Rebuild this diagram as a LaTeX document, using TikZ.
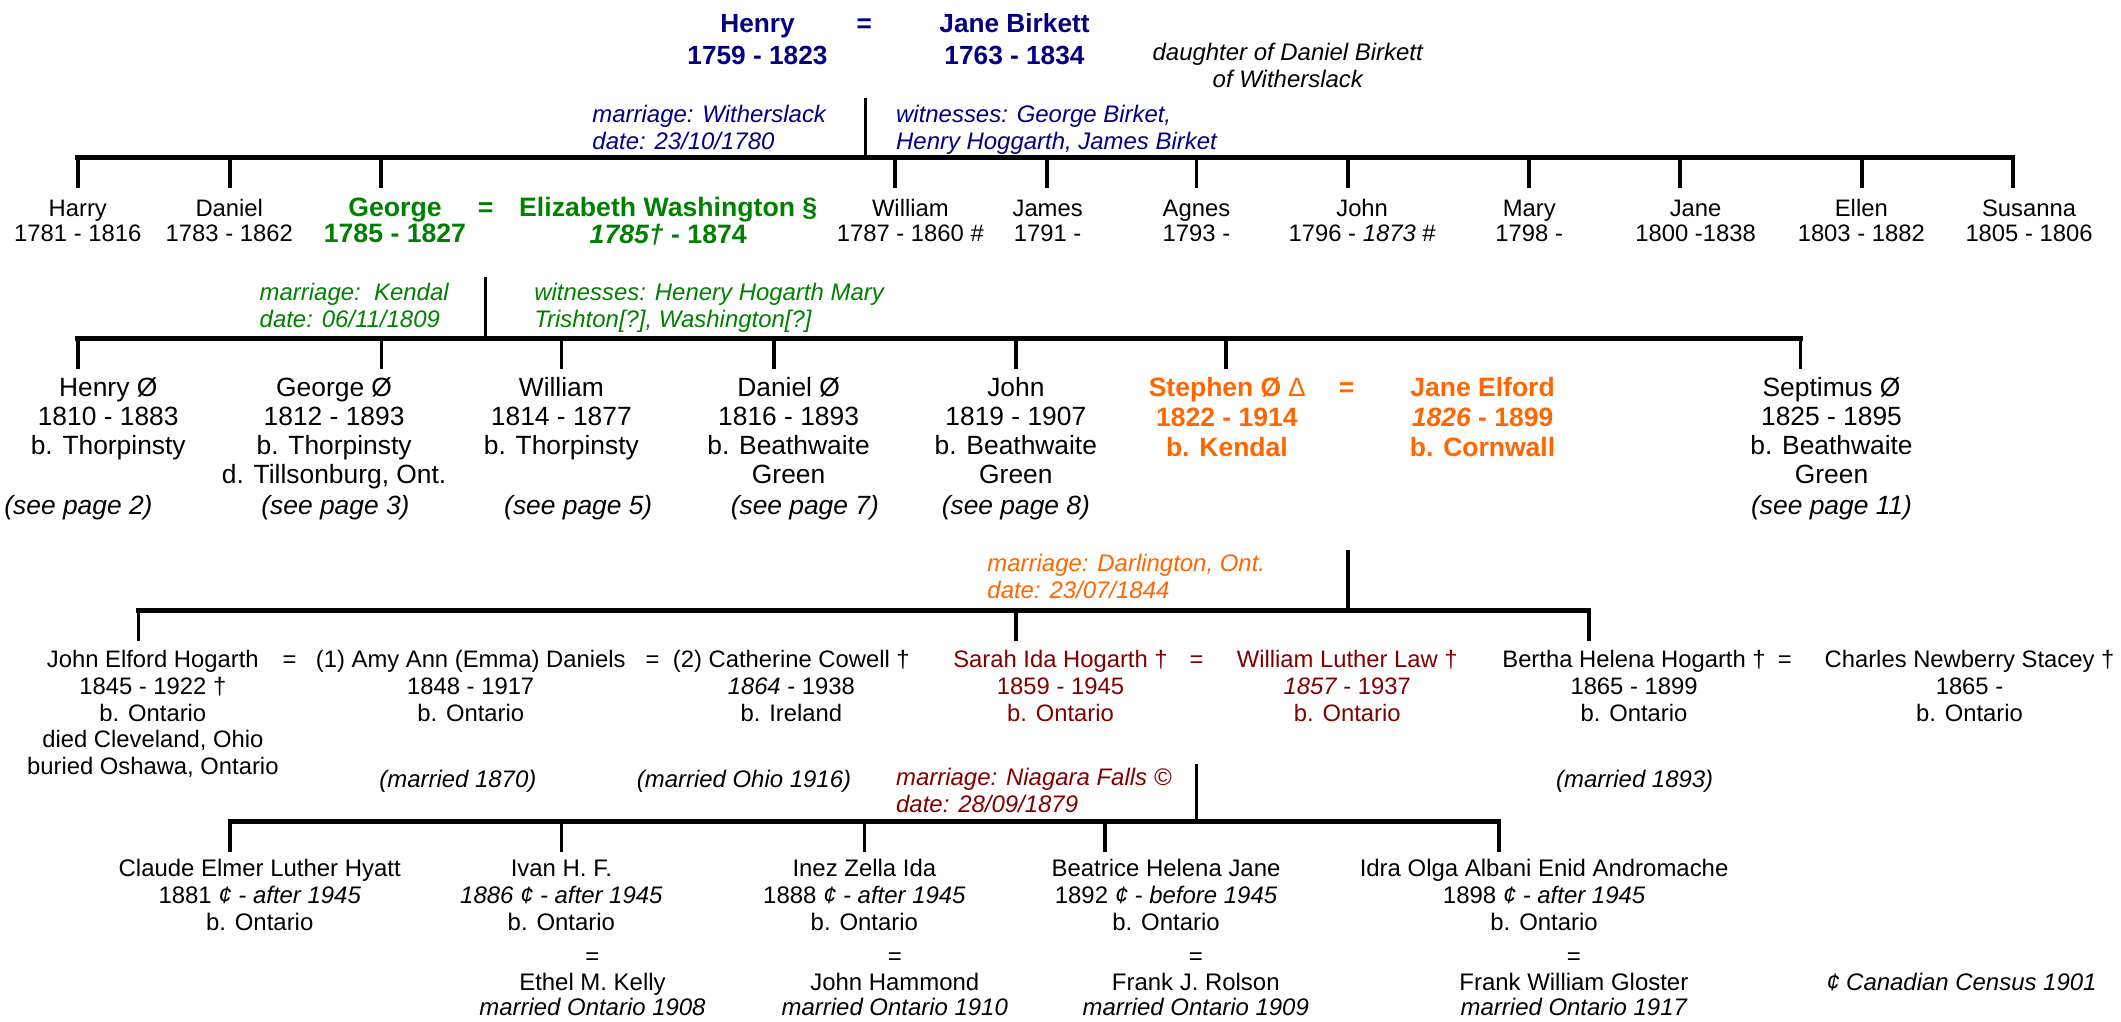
\documentclass[tikz,border=0pt]{standalone}
\usepackage{fontspec}
\setmainfont{Liberation Sans}
\definecolor{navy}{RGB}{0,0,128}
\definecolor{fgreen}{RGB}{0,128,0}
\definecolor{forange}{RGB}{255,102,0}
\definecolor{fred}{RGB}{128,0,0}
\newcommand\ls[1]{\begin{tabular}[t]{@{}c@{}}#1\end{tabular}}
\newcommand\lsl[1]{\begin{tabular}[t]{@{}l@{}}#1\end{tabular}}
\tikzset{
 pn/.style={inner sep=0pt, outer sep=0pt, anchor=base},
 topb/.style={pn, font=\fontsize{9.7}{12}\selectfont\bfseries, text=navy},
 lab/.style={inner sep=0pt, outer sep=0pt, anchor=base west, font=\fontsize{8.85}{10}\selectfont\itshape},
 note/.style={pn, font=\fontsize{8.85}{10}\selectfont\itshape},
 r1/.style={pn, font=\fontsize{8.8}{9.4}\selectfont},
 r1b/.style={pn, font=\fontsize{9.85}{9.5}\selectfont\bfseries, text=fgreen},
 r2/.style={pn, font=\fontsize{9.75}{10.75}\selectfont},
 r2i/.style={pn, font=\fontsize{9.75}{10.75}\selectfont\itshape},
 r2b/.style={pn, font=\fontsize{9.8}{11}\selectfont\bfseries, text=forange},
 r3/.style={pn, font=\fontsize{8.8}{9.9}\selectfont},
 r4/.style={pn, font=\fontsize{8.85}{10}\selectfont},
 sp/.style={pn, font=\fontsize{8.85}{9.5}\selectfont},
 bar/.style={line width=1.8pt, line cap=rect},
 drop/.style={line width=1.3pt},
}
\begin{document}
\begin{tikzpicture}[x=0.5pt, y=-0.5pt]
\useasboundingbox (0,0) rectangle (1568,755.5);

% ---------- generation 0 ----------
\node[topb] (henry) at (560,24) {\ls{Henry\\1759 - 1823}};
\node[topb] (eq0) at (639,24) {=};
\node[topb] (janeb) at (750,24) {\ls{Jane Birkett\\1763 - 1834}};
\node[note] (dau) at (952,44.5) {\ls{daughter of Daniel Birkett\\of Witherslack}};
\node[lab, text=navy] (m1) at (438,90.5) {\lsl{marriage: Witherslack\\date: 23/10/1780}};
\node[lab, text=navy] (w1) at (662.5,90.5) {\lsl{witnesses: George Birket,\\Henry Hoggarth, James Birket}};
\coordinate (s1) at (640,72.5);
\coordinate (bar1L) at (57.5,116.25);
\coordinate (bar1R) at (1488,116.25);
\draw[bar] (bar1L) -- (bar1R);
\draw[drop] (s1) -- (s1 |- bar1L);
\foreach \n/\x in {harry/57.5, daniel1/170, george/281.5, william1/661.5, james/774, agnes/884.5, john1/996.5, mary/1130.5, jane1/1242, ellen/1376.5, susanna/1488}{
  \coordinate (\n-in) at (\x,139);
  \draw[drop] (\n-in |- bar1L) -- (\n-in);
}

% ---------- generation 1 ----------
\node[r1] (harry) at (57.5,160) {\ls{Harry\\1781 - 1816}};
\node[r1] (daniel1) at (169.5,160) {\ls{Daniel\\1783 - 1862}};
\node[r1b] (george) at (292,160) {\ls{George\\1785 - 1827}};
\node[r1b] (eq1) at (359,160) {=};
\node[r1b] (eliz) at (494,160) {\ls{Elizabeth Washington §\\{\itshape 1785†} - 1874}};
\node[r1] (william1) at (673,160) {\ls{William\\1787 - 1860 \#}};
\node[r1] (james) at (774.5,160) {\ls{James\\1791 -}};
\node[r1] (agnes) at (884.5,160) {\ls{Agnes\\1793 -}};
\node[r1] (john1) at (1007,160) {\ls{John\\1796 - {\itshape 1873} \#}};
\node[r1] (mary) at (1130.5,160) {\ls{Mary\\1798 -}};
\node[r1] (jane1) at (1253.5,160) {\ls{Jane\\1800 -1838}};
\node[r1] (ellen) at (1376,160) {\ls{Ellen\\1803 - 1882}};
\node[r1] (susanna) at (1500,160) {\ls{Susanna\\1805 - 1806}};

\node[lab, text=fgreen] (m2) at (192,222) {\lsl{marriage:\ \ Kendal\\date: 06/11/1809}};
\node[lab, text=fgreen] (w2) at (395,222) {\lsl{witnesses: Henery Hogarth Mary\\Trishton[?], Washington[?]}};
\coordinate (s2) at (359,204.5);
\coordinate (bar2L) at (57.5,250.25);
\coordinate (bar2R) at (1331,250.25);
\draw[bar] (bar2L) -- (bar2R);
\draw[drop] (s2) -- (s2 |- bar2L);
\foreach \n/\x in {henry2/57.5, george2/282, william2/415, daniel2/572, john2/751, stephen/906.5, septimus/1331}{
  \coordinate (\n-in) at (\x,272.5);
  \draw[drop] (\n-in |- bar2L) -- (\n-in);
}

% ---------- generation 2 ----------
\node[r2] (henry2) at (80,293.25) {\ls{Henry Ø\\1810 - 1883\\b. Thorpinsty}};
\node[r2] (george2) at (247,293.25) {\ls{George Ø\\1812 - 1893\\b. Thorpinsty\\d. Tillsonburg, Ont.}};
\node[r2] (william2) at (415,293.25) {\ls{William\\1814 - 1877\\b. Thorpinsty}};
\node[r2] (daniel2) at (583,293.25) {\ls{Daniel Ø\\1816 - 1893\\b. Beathwaite\\Green}};
\node[r2] (john2) at (751,293.25) {\ls{John\\1819 - 1907\\b. Beathwaite\\Green}};
\node[r2b] (stephen) at (907,293.25) {\ls{Stephen Ø {\mdseries ∆}\\1822 - 1914\\b. Kendal}};
\node[r2b] (eq2) at (995.5,293.25) {=};
\node[r2b] (janee) at (1096,293.25) {\ls{Jane Elford\\{\itshape 1826} - 1899\\b. Cornwall}};
\node[r2] (septimus) at (1354,293.25) {\ls{Septimus Ø\\1825 - 1895\\b. Beathwaite\\Green}};
\node[r2i] (pg2) at (58,380) {(see page 2)};
\node[r2i] (pg3) at (248,380) {(see page 3)};
\node[r2i] (pg5) at (427.5,380) {(see page 5)};
\node[r2i] (pg7) at (595,380) {(see page 7)};
\node[r2i] (pg8) at (751,380) {(see page 8)};
\node[r2i] (pg11) at (1354,380) {(see page 11)};

\node[lab, text=forange] (m3) at (730,422.75) {\lsl{marriage: Darlington, Ont.\\date: 23/07/1844}};
\coordinate (s3) at (996.5,406.5);
\coordinate (bar3L) at (102.5,451);
\coordinate (bar3R) at (1174.5,451);
\draw[bar] (bar3L) -- (bar3R);
\draw[drop] (s3) -- (s3 |- bar3L);
\foreach \n/\x in {jeh/102.5, sarah/751, bertha/1174.5}{
  \coordinate (\n-in) at (\x,473.5);
  \draw[drop] (\n-in |- bar3L) -- (\n-in);
}

% ---------- generation 3 ----------
\node[r3] (jeh) at (113,493.5) {\ls{John Elford Hogarth\\1845 - 1922 †\\b. Ontario\\died Cleveland, Ohio\\buried Oshawa, Ontario}};
\node[r3] (eq3a) at (214,493.5) {=};
\node[r3] (amy) at (348,493.5) {\ls{(1) Amy Ann (Emma) Daniels\\1848 - 1917\\b. Ontario}};
\node[r3] (eq3b) at (482.5,493.5) {=};
\node[r3] (cath) at (585,493.5) {\ls{(2) Catherine Cowell †\\{\itshape 1864} - 1938\\b. Ireland}};
\node[r3, text=fred] (sarah) at (784,493.5) {\ls{Sarah Ida Hogarth †\\1859 - 1945\\b. Ontario}};
\node[r3, text=fred] (eq3c) at (884.5,493.5) {=};
\node[r3, text=fred] (wll) at (996,493.5) {\ls{William Luther Law †\\{\itshape 1857} - 1937\\b. Ontario}};
\node[r3] (bertha) at (1208,493.5) {\ls{Bertha Helena Hogarth †\\1865 - 1899\\b. Ontario}};
\node[r3] (eq3d) at (1319.5,493.5) {=};
\node[r3] (charles) at (1456,493.5) {\ls{Charles Newberry Stacey †\\1865 -\\b. Ontario}};
\node[note] (mar1) at (338.5,582) {(married 1870)};
\node[note] (mar2) at (550,582) {(married Ohio 1916)};
\node[note] (mar3) at (1208.5,582) {(married 1893)};

\node[lab, text=fred] (m4) at (662.5,581) {\lsl{marriage: Niagara Falls ©\\date: 28/09/1879}};
\coordinate (s4) at (884.5,565);
\coordinate (bar4L) at (170,607.25);
\coordinate (bar4R) at (1108,607.25);
\draw[bar] (bar4L) -- (bar4R);
\draw[drop] (s4) -- (s4 |- bar4L);
\foreach \n/\x in {claude/170, ivan/415, inez/639, beatrice/817, idra/1108}{
  \coordinate (\n-in) at (\x,629.75);
  \draw[drop] (\n-in |- bar4L) -- (\n-in);
}

% ---------- generation 4 ----------
\node[r4] (claude) at (192,647.75) {\ls{Claude Elmer Luther Hyatt\\1881 {\itshape ¢ - after 1945}\\b. Ontario}};
\node[r4] (ivan) at (415,647.75) {\ls{Ivan H. F.\\{\itshape 1886 ¢ - after 1945}\\b. Ontario}};
\node[r4] (inez) at (639,647.75) {\ls{Inez Zella Ida\\1888 {\itshape ¢ - after 1945}\\b. Ontario}};
\node[r4] (beatrice) at (862,647.75) {\ls{Beatrice Helena Jane\\1892 {\itshape ¢ - before 1945}\\b. Ontario}};
\node[r4] (idra) at (1141.5,647.75) {\ls{Idra Olga Albani Enid Andromache\\1898 {\itshape ¢ - after 1945}\\b. Ontario}};
\node[sp] (ethel) at (438,713) {\ls{=\\Ethel M. Kelly\\{\itshape married Ontario 1908}}};
\node[sp] (hammond) at (661.5,713) {\ls{=\\John Hammond\\{\itshape married Ontario 1910}}};
\node[sp] (rolson) at (884,713) {\ls{=\\Frank J. Rolson\\{\itshape married Ontario 1909}}};
\node[sp] (gloster) at (1163.5,713) {\ls{=\\Frank William Gloster\\{\itshape married Ontario 1917}}};
\node[note] (census) at (1450,732) {¢ Canadian Census 1901};
\end{tikzpicture}
\end{document}
